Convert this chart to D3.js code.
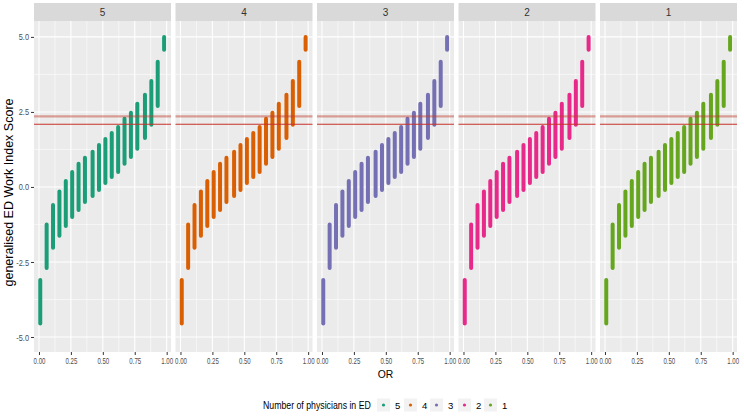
<!DOCTYPE html>
<html>
<head>
<meta charset="utf-8">
<script src="https://cdn.jsdelivr.net/npm/d3@7"></script>
<style>
  body { margin: 0; background: #fff; }
  svg text { font-family: "Liberation Sans", Arial, sans-serif; }
</style>
</head>
<body>
<div id="chart"></div>
<script>
var svgWidth = 744;
var svgHeight = 418;

// facet groups (number of physicians in ED) and their colours (Dark2)
var groups = ["5", "4", "3", "2", "1"];
var colors = ["#1B9E77", "#D95F02", "#7570B3", "#E7298A", "#66A61E"];

// OR values of the point columns, with the min / max score in each column
var orValues = [0.01, 0.06, 0.11, 0.16, 0.21, 0.26, 0.31, 0.36, 0.42, 0.47,
                0.52, 0.57, 0.62, 0.67, 0.72, 0.77, 0.83, 0.88, 0.93, 0.98];
var scoreMin = [-4.55, -2.70, -2.03, -1.63, -1.30, -1.00, -0.77, -0.50, -0.30, -0.10,
                0.13, 0.33, 0.50, 0.77, 1.00, 1.27, 1.63, 2.07, 2.70, 4.57];
var scoreMax = [-3.10, -1.25, -0.60, -0.15, 0.20, 0.50, 0.77, 0.97, 1.17, 1.40,
                1.60, 1.80, 2.00, 2.27, 2.47, 2.77, 3.07, 3.53, 4.17, 5.00];

// reference lines
var hLines = [2.35, 2.09];

var xTicks = [0, 0.25, 0.5, 0.75, 1];
var xTickLabels = ["0.00", "0.25", "0.50", "0.75", "1.00"];
var yTicks = [-5, -2.5, 0, 2.5, 5];
var yTickLabels = ["-5.0", "-2.5", "0.0", "2.5", "5.0"];

var margin = { top: 3, left: 34, right: 7 };
var stripH = 18;
var panelTop = margin.top + stripH;
var panelBottom = 352;
var gap = 4.5;
var panelW = (svgWidth - margin.left - margin.right - gap * (groups.length - 1)) / groups.length;

var svg = d3.select("#chart")
  .append("svg")
  .attr("width", svgWidth)
  .attr("height", svgHeight);

var xScale = d3.scaleLinear()
  .domain([-0.039, 1.034])
  .range([0, panelW]);

var yScale = d3.scaleLinear()
  .domain([-5.5, 5.53])
  .range([panelBottom, panelTop]);

var columns = orValues.map(function(x, i) {
  return { x: x, lo: scoreMin[i], hi: scoreMax[i] };
});

// squeeze text horizontally (around its own x) to mimic the narrow font of the original
function narrow(sel, f) {
  sel.each(function() {
    var x = +d3.select(this).attr("x") || 0;
    d3.select(this).attr("transform", `translate(${x},0) scale(${f},1) translate(${-x},0)`);
  });
}

groups.forEach(function(g, gi) {
  var left = margin.left + gi * (panelW + gap);
  var panel = svg.append("g").attr("transform", `translate(${left}, 0)`);

  // strip
  panel.append("rect")
    .attr("y", margin.top).attr("width", panelW).attr("height", stripH)
    .attr("fill", "#D9D9D9");
  panel.append("text")
    .attr("x", panelW / 2).attr("y", margin.top + stripH / 2 + 3.5)
    .attr("text-anchor", "middle").attr("font-size", "10px").attr("fill", "#333")
    .text(g);

  // panel background
  panel.append("rect")
    .attr("y", panelTop).attr("width", panelW).attr("height", panelBottom - panelTop)
    .attr("fill", "#EBEBEB");

  // minor grid
  [0.125, 0.375, 0.625, 0.875].forEach(function(v) {
    panel.append("line")
      .attr("x1", xScale(v)).attr("x2", xScale(v)).attr("y1", panelTop).attr("y2", panelBottom)
      .attr("stroke", "#fff").attr("stroke-width", 0.55);
  });
  [-3.75, -1.25, 1.25, 3.75].forEach(function(v) {
    panel.append("line")
      .attr("x1", 0).attr("x2", panelW).attr("y1", yScale(v)).attr("y2", yScale(v))
      .attr("stroke", "#fff").attr("stroke-width", 0.55);
  });
  // major grid
  xTicks.forEach(function(v) {
    panel.append("line")
      .attr("x1", xScale(v)).attr("x2", xScale(v)).attr("y1", panelTop).attr("y2", panelBottom)
      .attr("stroke", "#fff").attr("stroke-width", 1.1);
  });
  yTicks.forEach(function(v) {
    panel.append("line")
      .attr("x1", 0).attr("x2", panelW).attr("y1", yScale(v)).attr("y2", yScale(v))
      .attr("stroke", "#fff").attr("stroke-width", 1.1);
  });

  // point columns
  panel.selectAll("line.col")
    .data(columns)
    .enter()
    .append("line")
    .attr("class", "col")
    .attr("x1", d => xScale(d.x)).attr("x2", d => xScale(d.x))
    .attr("y1", d => yScale(d.lo)).attr("y2", d => yScale(d.hi))
    .attr("stroke", colors[gi])
    .attr("stroke-width", 4)
    .attr("stroke-linecap", "round");

  // horizontal reference lines
  panel.append("line")
    .attr("x1", 0).attr("x2", panelW).attr("y1", yScale(hLines[0])).attr("y2", yScale(hLines[0]))
    .attr("stroke", "#C0392B").attr("stroke-opacity", 0.45).attr("stroke-width", 2.2);
  panel.append("line")
    .attr("x1", 0).attr("x2", panelW).attr("y1", yScale(hLines[1])).attr("y2", yScale(hLines[1]))
    .attr("stroke", "#C8312A").attr("stroke-width", 1.1);

  // x axis
  var xAxis = d3.axisBottom(xScale)
    .tickValues(xTicks)
    .tickFormat((d, i) => xTickLabels[i])
    .tickSize(3).tickPadding(2.5);
  var xg = panel.append("g")
    .attr("transform", `translate(0, ${panelBottom})`)
    .call(xAxis);
  xg.select(".domain").remove();
  xg.selectAll("line").attr("stroke", "#333");
  xg.selectAll("text").attr("fill", "#4D4D4D").attr("font-size", "9.5px")
    .attr("font-family", "\"Liberation Sans\", Arial, sans-serif")
    .call(narrow, 0.64);

  // y axis only on the first panel
  if (gi === 0) {
    var yAxis = d3.axisLeft(yScale)
      .tickValues(yTicks)
      .tickFormat((d, i) => yTickLabels[i])
      .tickSize(3).tickPadding(2);
    var yg = panel.append("g").call(yAxis);
    yg.select(".domain").remove();
    yg.selectAll("line").attr("stroke", "#333");
    yg.selectAll("text").attr("fill", "#4D4D4D").attr("font-size", "9.5px")
      .attr("font-family", "\"Liberation Sans\", Arial, sans-serif")
      .call(narrow, 0.78);
  }
});

// axis titles
svg.append("text")
  .attr("transform", `translate(13, ${(panelTop + panelBottom) / 2 + 6}) rotate(-90)`)
  .attr("text-anchor", "middle")
  .attr("font-size", "12px")
  .attr("fill", "#000")
  .attr("textLength", 188).attr("lengthAdjust", "spacingAndGlyphs")
  .text("generalised ED Work Index Score");

svg.append("text")
  .attr("x", margin.left + (svgWidth - margin.left - margin.right) / 2)
  .attr("y", 378)
  .attr("text-anchor", "middle")
  .attr("font-size", "11.5px")
  .attr("fill", "#000")
  .text("OR")
  .call(narrow, 0.9);

// legend
var legend = svg.append("g").attr("transform", "translate(263, 405)");
var legendTitle = legend.append("text")
  .attr("x", 0).attr("y", 4)
  .attr("font-size", "11px").attr("fill", "#000")
  .text("Number of physicians in ED");
legendTitle.call(narrow, 108 / legendTitle.node().getComputedTextLength());

var keyX = [114, 141, 167, 195, 221];
groups.forEach(function(g, i) {
  legend.append("rect")
    .attr("x", keyX[i]).attr("y", -6.5).attr("width", 13).attr("height", 13)
    .attr("fill", "#F2F2F2");
  legend.append("circle")
    .attr("cx", keyX[i] + 6.5).attr("cy", 0).attr("r", 1.6)
    .attr("fill", colors[i]);
  legend.append("text")
    .attr("x", keyX[i] + 18).attr("y", 3.5)
    .attr("font-size", "9.5px").attr("fill", "#000")
    .text(g);
});
</script>
</body>
</html>
